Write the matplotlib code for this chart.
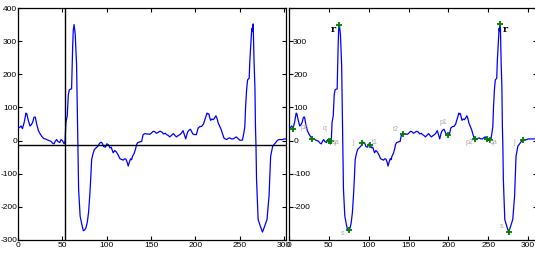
import matplotlib
matplotlib.use('Agg')
import matplotlib.pyplot as plt
import numpy as np

plt.rcParams['font.family'] = ['Liberation Sans', 'DejaVu Sans']
plt.rcParams['axes.unicode_minus'] = False

# ── ECG beat samples ──────────────────────────────────────────────────────────
sample_x = [0, 2, 3.5, 5, 7, 9, 10, 11.5, 13.5, 15, 16.5, 18, 19.5, 21, 23, 25, 27, 29, 31, 33,
            35, 37, 39, 40.5, 42, 43.5, 45, 47, 48.5, 50, 52, 53, 54, 55.5, 56.7, 57.8, 59, 60.4,
            61.6, 62.3, 63.2, 64.5, 66, 66.8, 67.5, 68.3, 70, 71.7, 73.6, 75, 76.5, 78, 79.5, 81,
            81.7, 83, 84.5, 86, 88, 90, 92, 93.5, 95, 96.5, 98.5, 100, 101.7, 103.6, 105, 107.3,
            109, 111, 113, 114.9, 116.8, 118.6, 120, 121.6, 123, 124.2, 125.5, 126.9, 128, 129,
            131, 132.5, 133.6, 135, 136.5, 138, 139.3, 141, 143, 145, 148.6, 150, 152.4, 154, 156,
            158, 160, 162, 164, 166, 167.4, 169, 171, 173, 175, 177, 178.6, 180, 182.4, 184, 186,
            187.5, 189, 190.5, 191.6, 193, 194.4, 196, 197, 199, 201, 203, 205, 207, 209, 210.6,
            212, 213, 214, 215, 216, 217, 218.5, 220, 221.5, 223, 224.5, 225.6, 227, 229, 230.5,
            232, 233.5, 235, 237, 238.7, 240.5, 242.5, 244, 246, 248, 250, 252, 253, 254.5, 255.6,
            256.5, 257.6, 258.7, 260.5, 261.3, 262.4, 263.5, 264, 265, 266, 267, 267.6, 268.2,
            268.8, 270.6, 273, 275.5, 278, 280.6, 282.9, 284.7, 287, 290, 292.5, 294, 296, 298,
            300, 312]
sample_y = [38, 40, 44, 36, 55, 83, 80, 62, 44, 48, 55, 70, 71, 50, 30, 20, 12, 6, 5, 2,
            0, -2, -8, -10, -2, 3, -3, -6, 3, 0, -10, -2, 55, 75, 138, 153, 155, 156,
            284, 334, 350, 320, 229, 88, -17, -147, -228, -250, -272, -270, -264, -248, -217, -160,
            -127, -57, -40, -27, -22, -17, -8, -5, -8, -18, -20, -10, -12, -22, -20, -37,
            -30, -35, -44, -55, -57, -59, -55, -56, -65, -77, -65, -55, -58, -48,
            -38, -25, -12, -6, -5, -3, -3, 18, 21, 20, 19, 22, 28, 27, 22,
            25, 28, 26, 20, 22, 18, 16, 11, 16, 21, 15, 11, 14, 18, 22, 30,
            18, 5, 20, 28, 32, 34, 25, 20, 18, 18, 38, 42, 43, 50, 63,
            75, 83, 80, 81, 70, 61, 65, 63, 68, 75, 65, 53, 45, 33, 20,
            8, 5, 3, 7, 8, 5, 5, 8, 11, 6, 1, 1, 2, 23, 42,
            103, 153, 183, 188, 243, 294, 339, 330, 352, 238, 158, 40, -17,
            -117, -238, -258, -276, -258, -238, -167, -47, -17, -7, 1, 3, 3, 3,
            5, 5]

# detected fiducial points (sample positions) and their labels
fid_x = [5, 29, 50, 53, 63.2, 75, 92, 101.7, 143, 199, 233.5, 248, 252, 265, 275.5, 294]
label_txt = ["p2", "q", "qa", "j", "t1", "t2", "p1", "p2", "qa", "j", "s", "s"]
label_x = [20, 45, 58, 80, 108, 134, 194, 226, 257, 282, 67, 267]
label_y = [40, 35, -6, -6, -5, 33, 56, -7, -6, -6, -280, -259]
r_x = [55.7, 271]
r_y = [336, 336]

# baseline / onset cursors in the left panel
base_level = -12
cursor_x = 53

BLUE = "#0000ff"
GREEN = "#008000"
LABEL = "#a8a8a8"

sx = np.array(sample_x)
sy = np.array(sample_y)
fid_idx = [int(np.argmin(np.abs(sx - f))) for f in fid_x]

fig = plt.figure(figsize=(5.35, 2.56), dpi=100, facecolor="white")
ax1 = fig.add_axes([18 / 535, 16 / 256, 268 / 535, 232 / 256])
ax2 = fig.add_axes([289 / 535, 16 / 256, 248 / 535, 232 / 256])

for ax in (ax1, ax2):
    ax.plot(sx, sy, color=BLUE, lw=0.9, zorder=3)
    ax.set_ylim(-300, 400)
    ax.set_xticks(range(0, 301, 50))
    ax.set_yticks(range(-300, 401, 100))
    ax.tick_params(direction="in", length=3, width=0.8, labelsize=6, pad=1.5,
                   top=True, right=True, colors="black")
    for sp in ax.spines.values():
        sp.set_linewidth(0.9)

ax1.tick_params(axis="y", pad=0.6)
ax1.set_xlim(0, 302)
ax1.axhline(base_level, color="black", lw=1.0, zorder=4)
ax1.axvline(cursor_x, color="black", lw=1.0, zorder=4)

ax2.set_xlim(0, 311)
ax2.plot(sx[fid_idx], sy[fid_idx], "+", color=GREEN, ms=4.5, mew=1.3, zorder=5)
for t, lx, ly in zip(label_txt, label_x, label_y):
    ax2.text(lx, ly, t, fontsize=5, color=LABEL, ha="center", va="center", zorder=6)
for lx, ly in zip(r_x, r_y):
    ax2.text(lx, ly, "r", fontsize=7, color="black", fontweight="bold",
             family="DejaVu Serif", ha="center", va="center", zorder=6)

# y tick labels drawn inside the right panel
ax2.tick_params(axis="y", pad=-3)
labels = [str(v) if -300 < v < 400 else "" for v in range(-300, 401, 100)]
ax2.set_yticklabels(labels)
for lab in ax2.get_yticklabels():
    lab.set_horizontalalignment("left")

fig.savefig("out.png", dpi=100, facecolor="white")
plt.close()
